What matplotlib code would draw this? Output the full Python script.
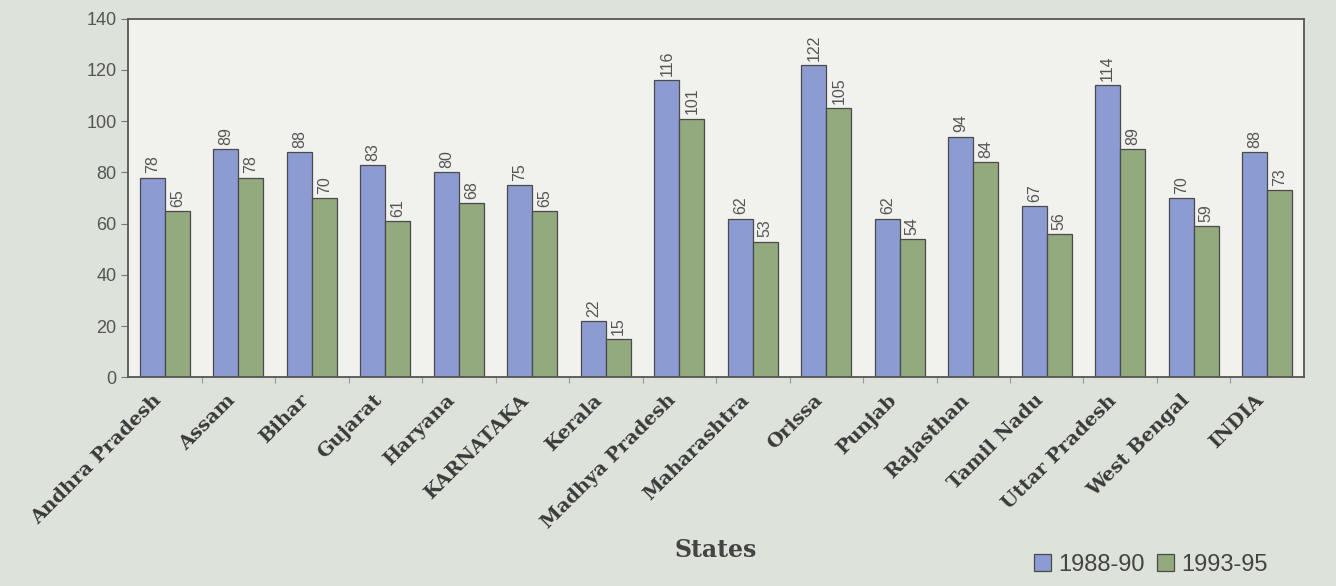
import numpy as np
import matplotlib
matplotlib.use("Agg")
import matplotlib.pyplot as plt

# state-wise values for the two periods
states = ["Andhra Pradesh", "Assam", "Bihar", "Gujarat", "Haryana", "KARNATAKA",
          "Kerala", "Madhya Pradesh", "Maharashtra", "Orissa", "Punjab",
          "Rajasthan", "Tamil Nadu", "Uttar Pradesh", "West Bengal", "INDIA"]
v_8890 = [78, 89, 88, 83, 80, 75, 22, 116, 62, 122, 62, 94, 67, 114, 70, 88]
v_9395 = [65, 78, 70, 61, 68, 65, 15, 101, 53, 105, 54, 84, 56, 89, 59, 73]
periods = ["1988-90", "1993-95"]

blue = "#8c9bd2"
green = "#92aa7e"
edge = "#4a4a4a"
textc = "#555555"

fig = plt.figure(figsize=(13.36, 5.86), dpi=100, facecolor="#dde2da")
ax = fig.add_axes([0.096, 0.356, 0.880, 0.612])
ax.set_facecolor("#f1f1ee")

x = np.arange(len(states))
w = 0.34
b1 = ax.bar(x - w/2, v_8890, w, color=blue, edgecolor=edge, linewidth=0.9, label=periods[0])
b2 = ax.bar(x + w/2, v_9395, w, color=green, edgecolor=edge, linewidth=0.9, label=periods[1])

for bars in (b1, b2):
    for r in bars:
        h = r.get_height()
        ax.annotate("%d" % h, (r.get_x() + r.get_width()/2, h), xytext=(0, 3),
                    textcoords="offset points", rotation=90, ha="center", va="bottom",
                    fontsize=11.5, color=textc, family="Liberation Sans")

ax.set_xlim(-0.5, len(states) - 0.5)
ax.set_ylim(0, 140)
ax.set_yticks(range(0, 141, 20))
ax.tick_params(axis="y", labelsize=13, labelcolor=textc, color="#777777", length=5, width=0.8)
for t in ax.get_yticklabels():
    t.set_family("Liberation Sans")

# labels at group centres, tick marks between groups
ax.set_xticks(x)
ax.set_xticklabels(states, rotation=45, ha="right", fontsize=14, fontweight="bold",
                   family="DejaVu Serif", color="#3a3a3a")
ax.tick_params(axis="x", which="major", length=0, pad=10)
ax.set_xticks(np.arange(0.5, len(states) - 1, 1), minor=True)
ax.tick_params(axis="x", which="minor", length=4, color="#999999", width=0.8)

for s in ax.spines.values():
    s.set_color("#555555")
    s.set_linewidth(1.3)

fig.text(0.536, 0.061, "States", ha="center", va="center", fontsize=17,
         family="DejaVu Serif", fontweight="bold", color="#444444")

fig.legend(handles=[b1, b2], labels=periods, loc="center right",
           bbox_to_anchor=(0.965, 0.036), ncol=2, frameon=False,
           prop={"family": "Liberation Sans", "size": 17},
           handlelength=0.75, handleheight=0.75, handletextpad=0.3,
           columnspacing=0.5, labelcolor="#444444")

fig.savefig("out.png", dpi=100, facecolor=fig.get_facecolor())
